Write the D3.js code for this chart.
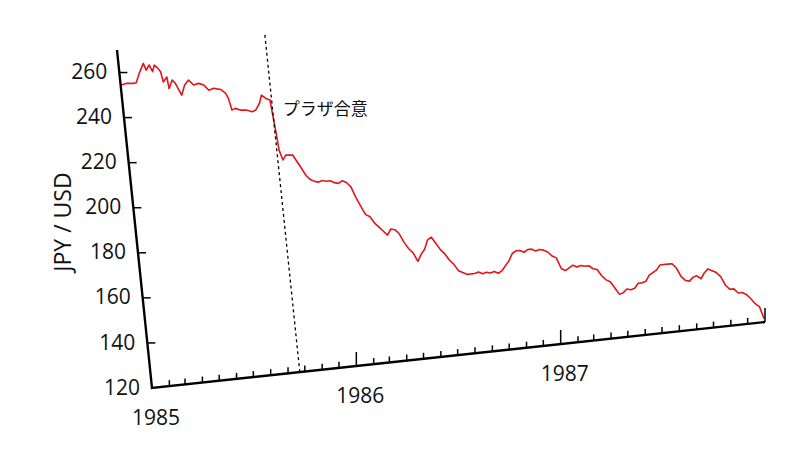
<!DOCTYPE html>
<html><head><meta charset="utf-8">
<script src="https://cdn.jsdelivr.net/npm/d3@7"></script>
<style>body{margin:0;background:#fff}svg{display:block}</style>
</head><body>
<svg id="c" width="800" height="450"></svg>
<script>
// ---- data ----
const startDate = "1985-01-01";
const endDate = "1988-01-01";
const plazaDate = "1985-09-22";
const plazaLabel = "プラザ合意";
const yLabel = "JPY / USD";
const yTicks = [120, 140, 160, 180, 200, 220, 240, 260];
const yearTicks = ["1985", "1986", "1987"];
const dates = [
"1985-01-02","1985-01-11","1985-01-23","1985-01-29","1985-02-05","1985-02-14","1985-02-18","1985-02-24","1985-03-01","1985-03-05","1985-03-11","1985-03-15","1985-03-18","1985-03-25","1985-03-27","1985-04-03","1985-04-08","1985-04-17","1985-04-24","1985-05-02","1985-05-10","1985-05-19","1985-05-28","1985-06-05","1985-06-14","1985-06-26","1985-07-04","1985-07-08","1985-07-12","1985-07-18","1985-07-27","1985-08-06","1985-08-17","1985-08-23","1985-08-31","1985-09-05","1985-09-12","1985-09-19","1985-09-24","1985-09-26","1985-10-01","1985-10-07","1985-10-19","1985-10-29","1985-11-08","1985-11-15","1985-11-22","1985-11-29","1985-12-06","1985-12-13","1985-12-20","1985-12-27",
"1986-01-03","1986-01-10","1986-01-17","1986-01-24","1986-01-31","1986-02-07","1986-02-14","1986-02-21","1986-02-28","1986-03-07","1986-03-14","1986-03-21","1986-03-28","1986-04-04","1986-04-11","1986-04-18","1986-04-25","1986-05-02","1986-05-09","1986-05-16","1986-05-23","1986-05-30","1986-06-06","1986-06-13","1986-06-20","1986-06-27","1986-07-04","1986-07-11","1986-07-18","1986-07-25","1986-08-01","1986-08-08","1986-08-15","1986-08-22","1986-08-29","1986-09-05","1986-09-12","1986-09-19","1986-09-26","1986-10-03","1986-10-10","1986-10-17","1986-10-24","1986-10-31","1986-11-07","1986-11-14","1986-11-21","1986-11-28","1986-12-05","1986-12-12","1986-12-19","1986-12-26",
"1987-01-02","1987-01-09","1987-01-16","1987-01-23","1987-01-30","1987-02-06","1987-02-13","1987-02-20","1987-02-27","1987-03-06","1987-03-13","1987-03-20","1987-03-27","1987-04-03","1987-04-10","1987-04-17","1987-04-24","1987-05-01","1987-05-08","1987-05-15","1987-05-22","1987-05-29","1987-06-05","1987-06-12","1987-06-19","1987-06-26","1987-07-03","1987-07-10","1987-07-17","1987-07-24","1987-07-31","1987-08-07","1987-08-14","1987-08-21","1987-08-28","1987-09-04","1987-09-11","1987-09-18","1987-09-25","1987-10-02","1987-10-09","1987-10-16","1987-10-23","1987-10-30","1987-11-06","1987-11-13","1987-11-20","1987-11-27","1987-12-04","1987-12-11","1987-12-18","1987-12-25","1987-12-31"];
const rates = [
254.4,254.9,254.6,254.7,258.7,262.9,259.8,261.9,258.8,261.6,260,258.4,253.8,255.8,250.6,254.2,252.6,247.1,251.4,253.4,251,251.5,250.5,248,248.6,247.8,245.8,243.5,238.2,238.8,237.8,237.6,236.5,237.1,239.9,243.4,241.7,240.8,225.9,218.4,213.9,215.9,215.6,210.9,206,204,203,202.5,203,202.5,202.5,201.5,
201,202,201,199,194,190,186,185,182,180,178,176,178.5,178,176,172,169,167,163,166,168,172,173,170,167,165,162,160,157,156,155,155,155,155.5,154.5,155,154.5,155,154,155,157,159,162,163,163,162,163,163,162,162.5,162,161,
159,158,153,152,153,154,153,153.5,153,153,151.5,151,148,146,145,142,139,139.5,141,140.5,141,143,143,143.5,146,147,148,150,150,150,150,148,144,142,141.5,143,143.5,142,144.5,146,145,144,142,138,136,136,134,134,133,131,128.5,127,121.5];

// ---- geometry (skewed plot frame) ----
const W = 613, H = 338, ox = 117, oy = 50;
const kx = 35 / 338;   // horizontal shift per px down
const ky = -66 / 613;  // vertical shift per px right
const P = (xc, yc) => [ox + xc + kx * yc, oy + ky * xc + yc];

const parse = d3.timeParse("%Y-%m-%d");
const x = d3.scaleTime().domain([parse(startDate), parse(endDate)]).range([0, W]);
const y = d3.scaleLinear().domain([120, 270]).range([H, 0]);

const svg = d3.select("#c");
const g = svg.append("g");
const font = "'Open Sans', 'Noto Sans', sans-serif";

// red line
const pts = dates.map((d, i) => P(x(parse(d)), y(rates[i])));
g.append("path").attr("d", d3.line()(pts))
  .attr("fill", "none").attr("stroke", "#e0161b").attr("stroke-width", 1.6)
  .attr("stroke-linejoin", "round");

// plaza dotted line
const px = x(parse(plazaDate));
g.append("path").attr("d", d3.line()([P(px, H), P(px, 0)]))
  .attr("stroke", "#000").attr("stroke-width", 1.3).attr("stroke-dasharray", "3,3");
const lp = P(px, y(236));
g.append("text").attr("x", lp[0] + 10).attr("y", lp[1])
  .attr("dominant-baseline", "middle")
  .attr("font-family", "'Noto Sans CJK JP', sans-serif").attr("font-size", 17)
  .attr("fill", "#111").text(plazaLabel);

// axes lines
g.append("path").attr("d", d3.line()([P(0, 0), P(0, H), P(W, H)]))
  .attr("fill", "none").attr("stroke", "#000").attr("stroke-width", 2.4);

// y ticks
yTicks.forEach(v => {
  const [X, Y] = P(0, y(v));
  if (v !== 120) g.append("line").attr("x1", X).attr("x2", X + 8).attr("y1", Y).attr("y2", Y)
    .attr("stroke", "#000").attr("stroke-width", 1.5);
  g.append("text").attr("x", X - 12).attr("y", Y + 1).attr("text-anchor", "end")
    .attr("dominant-baseline", "middle").attr("font-family", font).attr("font-size", 21)
    .attr("fill", "#111").text(v);
});

// x ticks: months minor, years major
x.ticks(d3.timeMonth.every(1)).forEach(d => {
  const xc = x(d);
  if (xc <= 0.5) return;
  const major = d.getMonth() === 0;
  const [X, Y] = P(xc, H);
  g.append("line").attr("x1", X).attr("x2", X).attr("y1", Y).attr("y2", Y - (major ? 14 : 6))
    .attr("stroke", "#000").attr("stroke-width", 1.5);
});
yearTicks.forEach(t => {
  const [X, Y] = P(x(parse(t + "-01-01")), H);
  g.append("text").attr("x", X + 4).attr("y", Y + 31).attr("text-anchor", "middle")
    .attr("dominant-baseline", "middle").attr("font-family", font).attr("font-size", 21)
    .attr("fill", "#111").text(t);
});

// y label
svg.append("text").attr("transform", "translate(71,222) rotate(-90)")
  .attr("text-anchor", "middle").attr("font-family", font).attr("font-size", 23)
  .attr("fill", "#111").text(yLabel);
</script>
</body></html>
